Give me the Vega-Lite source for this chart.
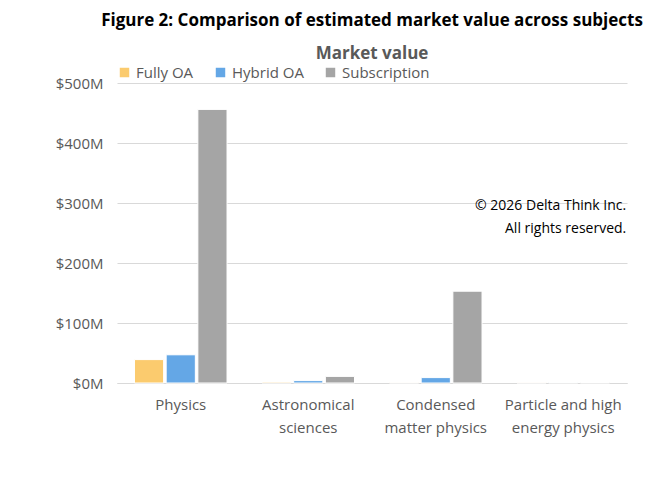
{
  "$schema": "https://vega.github.io/schema/vega-lite/v6.json",
  "width": 510,
  "height": 300,
  "padding": {"left": 55, "right": 40, "top": 12, "bottom": 10},
  "background": "white",
  "title": {
    "text": "Figure 2: Comparison of estimated market value across subjects",
    "subtitle": "Market value",
    "fontSize": 17,
    "font": "Open Sans",
    "fontWeight": "bold",
    "color": "black",
    "subtitleFont": "Open Sans",
    "subtitleFontSize": 17,
    "subtitleFontWeight": "bold",
    "subtitleColor": "#595959",
    "subtitlePadding": 16,
    "anchor": "middle",
    "offset": 2
  },
  "data": {
    "values": [
      {"subject": "Physics", "model": "Fully OA", "value": 39},
      {"subject": "Physics", "model": "Hybrid OA", "value": 47},
      {"subject": "Physics", "model": "Subscription", "value": 456},
      {"subject": "Astronomical sciences", "model": "Fully OA", "value": 1.5},
      {"subject": "Astronomical sciences", "model": "Hybrid OA", "value": 4},
      {"subject": "Astronomical sciences", "model": "Subscription", "value": 11},
      {"subject": "Condensed matter physics", "model": "Fully OA", "value": 0.6},
      {"subject": "Condensed matter physics", "model": "Hybrid OA", "value": 9},
      {"subject": "Condensed matter physics", "model": "Subscription", "value": 153},
      {"subject": "Particle and high energy physics", "model": "Fully OA", "value": 0.5},
      {"subject": "Particle and high energy physics", "model": "Hybrid OA", "value": 0.8},
      {"subject": "Particle and high energy physics", "model": "Subscription", "value": 0.8}
    ]
  },
  "layer": [
    {
      "mark": {"type": "bar", "stroke": "white", "strokeWidth": 1},
      "encoding": {
        "x": {
          "field": "subject",
          "type": "nominal",
          "sort": null,
          "scale": {"paddingInner": 0.1, "paddingOuter": 0.05},
          "axis": {
            "title": null,
            "labelAngle": 0,
            "labelExpr": "datum.label == 'Astronomical sciences' ? ['Astronomical', 'sciences'] : datum.label == 'Condensed matter physics' ? ['Condensed', 'matter physics'] : datum.label == 'Particle and high energy physics' ? ['Particle and high', 'energy physics'] : datum.label",
            "labelLineHeight": 23,
            "labelOverlap": false,
            "ticks": false,
            "domainColor": "#d9d9d9",
            "labelPadding": 14
          }
        },
        "xOffset": {
          "field": "model",
          "type": "nominal",
          "sort": ["Fully OA", "Hybrid OA", "Subscription"],
          "scale": {"paddingInner": 0.08, "paddingOuter": 0.35}
        },
        "y": {
          "field": "value",
          "type": "quantitative",
          "scale": {"domain": [0, 500]},
          "axis": {
            "title": null,
            "values": [0, 50, 100, 150, 200, 250, 300, 350, 400, 450, 500],
            "labelExpr": "'$' + datum.value + 'M'",
            "labelOverlap": false,
            "ticks": false,
            "domain": false,
            "gridColor": "#d9d9d9",
            "labelPadding": 14
          }
        },
        "color": {
          "field": "model",
          "type": "nominal",
          "sort": ["Fully OA", "Hybrid OA", "Subscription"],
          "scale": {"range": ["#FBCB6E", "#64A7E6", "#A5A5A5"]},
          "legend": {
            "title": null,
            "orient": "top",
            "direction": "horizontal",
            "symbolType": "square",
            "symbolSize": 120,
            "columnPadding": 18,
            "offset": 2
          }
        }
      }
    },
    {
      "data": {
        "values": [
          {"subject": "Particle and high energy physics", "value": 295, "note": "© 2026 Delta Think Inc."},
          {"subject": "Particle and high energy physics", "value": 257, "note": "All rights reserved."}
        ]
      },
      "mark": {"type": "text", "align": "right", "dx": 63, "fontSize": 14, "font": "Open Sans", "color": "black"},
      "encoding": {
        "x": {"field": "subject", "type": "nominal", "sort": null},
        "y": {"field": "value", "type": "quantitative"},
        "text": {"field": "note"}
      }
    }
  ],
  "config": {
    "view": {"stroke": null},
    "axis": {"labelFont": "Open Sans", "labelFontSize": 15, "labelColor": "#595959"},
    "legend": {"labelFont": "Open Sans", "labelFontSize": 15, "labelColor": "#595959"}
  }
}
